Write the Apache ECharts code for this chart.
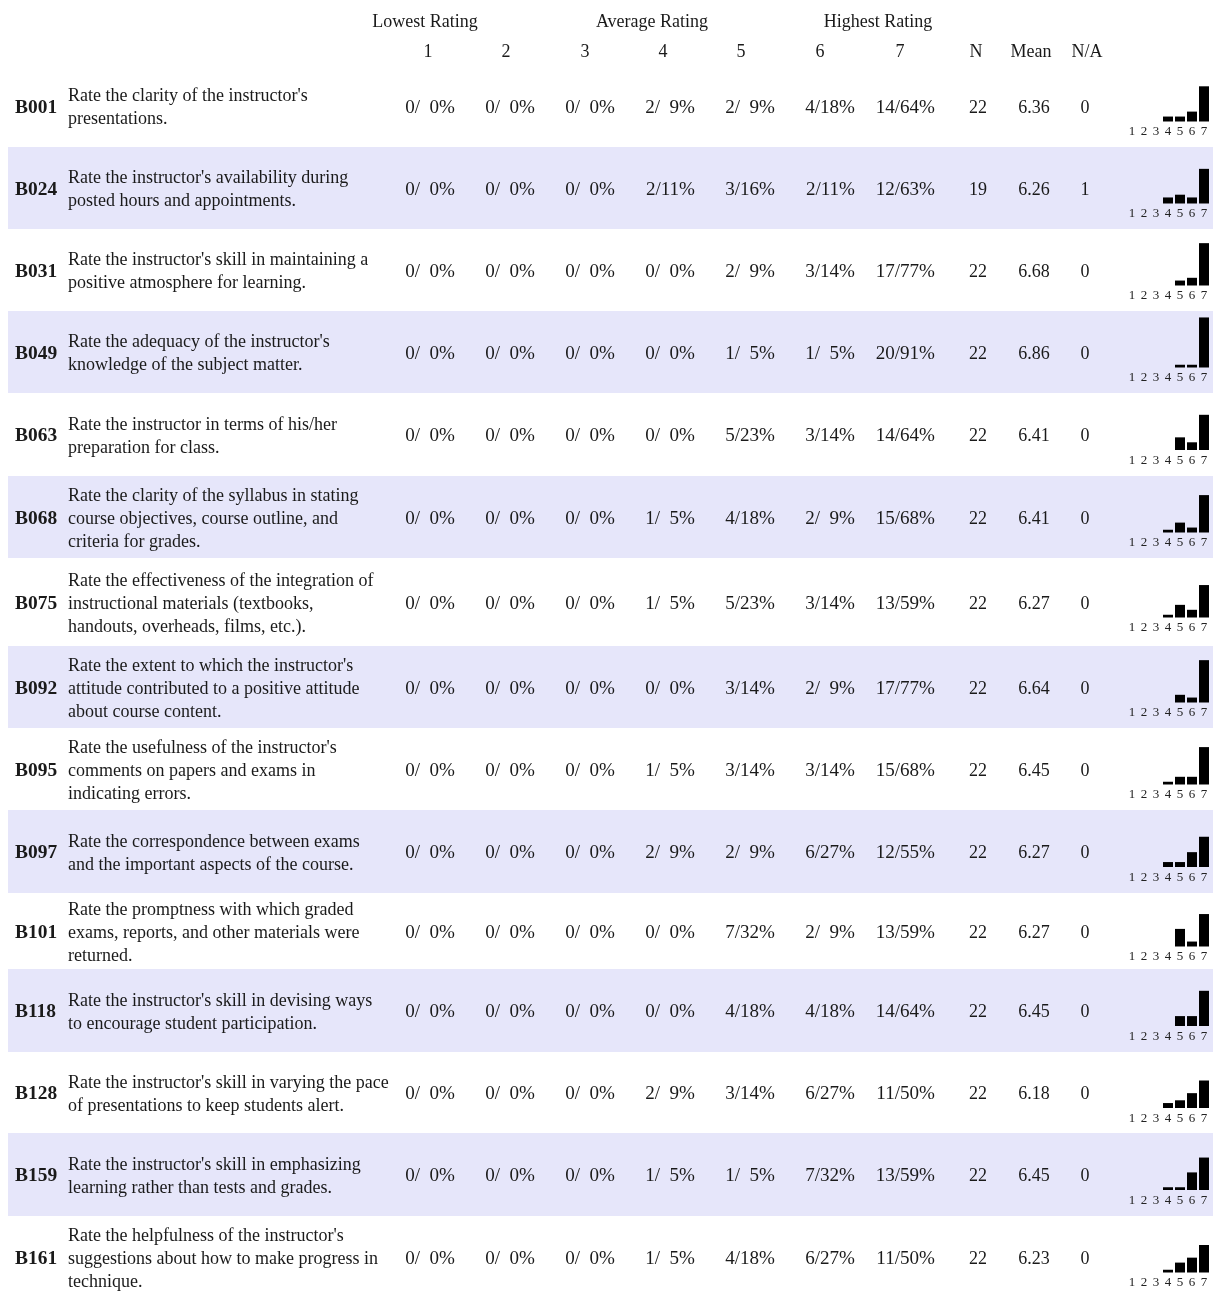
<!DOCTYPE html>
<html>
<head>
<meta charset="utf-8">
<script src="https://cdn.jsdelivr.net/npm/echarts@6/dist/echarts.min.js"></script>
<style>
  html, body { margin: 0; padding: 0; background: #fff; }
  #chart { width: 1213px; height: 1292px; }
</style>
</head>
<body>
<div id="chart"></div>
<script>
// ---- data ----
var codes = ['B001', 'B024', 'B031', 'B049', 'B063', 'B068', 'B075', 'B092',
             'B095', 'B097', 'B101', 'B118', 'B128', 'B159', 'B161'];

var questions = [
  "Rate the clarity of the instructor's\npresentations.",
  "Rate the instructor's availability during\nposted hours and appointments.",
  "Rate the instructor's skill in maintaining a\npositive atmosphere for learning.",
  "Rate the adequacy of the instructor's\nknowledge of the subject matter.",
  "Rate the instructor in terms of his/her\npreparation for class.",
  "Rate the clarity of the syllabus in stating\ncourse objectives, course outline, and\ncriteria for grades.",
  "Rate the effectiveness of the integration of\ninstructional materials (textbooks,\nhandouts, overheads, films, etc.).",
  "Rate the extent to which the instructor's\nattitude contributed to a positive attitude\nabout course content.",
  "Rate the usefulness of the instructor's\ncomments on papers and exams in\nindicating errors.",
  "Rate the correspondence between exams\nand the important aspects of the course.",
  "Rate the promptness with which graded\nexams, reports, and other materials were\nreturned.",
  "Rate the instructor's skill in devising ways\nto encourage student participation.",
  "Rate the instructor's skill in varying the pace\nof presentations to keep students alert.",
  "Rate the instructor's skill in emphasizing\nlearning rather than tests and grades.",
  "Rate the helpfulness of the instructor's\nsuggestions about how to make progress in\ntechnique."
];

var ratings = ['1', '2', '3', '4', '5', '6', '7'];

// number of answers per rating 1..7
var counts = [
  [0, 0, 0, 2, 2, 4, 14],
  [0, 0, 0, 2, 3, 2, 12],
  [0, 0, 0, 0, 2, 3, 17],
  [0, 0, 0, 0, 1, 1, 20],
  [0, 0, 0, 0, 5, 3, 14],
  [0, 0, 0, 1, 4, 2, 15],
  [0, 0, 0, 1, 5, 3, 13],
  [0, 0, 0, 0, 3, 2, 17],
  [0, 0, 0, 1, 3, 3, 15],
  [0, 0, 0, 2, 2, 6, 12],
  [0, 0, 0, 0, 7, 2, 13],
  [0, 0, 0, 0, 4, 4, 14],
  [0, 0, 0, 2, 3, 6, 11],
  [0, 0, 0, 1, 1, 7, 13],
  [0, 0, 0, 1, 4, 6, 11]
];

// percent per rating 1..7
var percents = [
  [0, 0, 0, 9, 9, 18, 64],
  [0, 0, 0, 11, 16, 11, 63],
  [0, 0, 0, 0, 9, 14, 77],
  [0, 0, 0, 0, 5, 5, 91],
  [0, 0, 0, 0, 23, 14, 64],
  [0, 0, 0, 5, 18, 9, 68],
  [0, 0, 0, 5, 23, 14, 59],
  [0, 0, 0, 0, 14, 9, 77],
  [0, 0, 0, 5, 14, 14, 68],
  [0, 0, 0, 9, 9, 27, 55],
  [0, 0, 0, 0, 32, 9, 59],
  [0, 0, 0, 0, 18, 18, 64],
  [0, 0, 0, 9, 14, 27, 50],
  [0, 0, 0, 5, 5, 32, 59],
  [0, 0, 0, 5, 18, 27, 50]
];

var nResp = [22, 19, 22, 22, 22, 22, 22, 22, 22, 22, 22, 22, 22, 22, 22];
var means = ['6.36', '6.26', '6.68', '6.86', '6.41', '6.41', '6.27', '6.64',
             '6.45', '6.27', '6.27', '6.45', '6.18', '6.45', '6.23'];
var naCounts = [0, 1, 0, 0, 0, 0, 0, 0, 0, 0, 0, 0, 0, 0, 0];

var groupHeads = ['Lowest Rating', 'Average Rating', 'Highest Rating'];

// ---- layout ----
var FONT = '"Liberation Serif", "Times New Roman", serif';
var TXT = '#1a1a1a';
var BAND = '#e6e6fa';
var rowTops = [65, 147, 229, 311, 393, 476, 558, 646, 728, 810, 893, 969, 1052, 1133, 1216, 1298];
var colRight = [455, 535, 615, 695, 775, 855, 935];   // value cells are right aligned
var colHead = [428, 506, 585, 663, 741, 820, 900];
var groupX = [425, 652, 878];

function fmtCell(c, p) {
  var b = p < 10 ? '  ' + p : '' + p;   // pad like the report
  return c + '/' + b + '%';
}

var chart = echarts.init(document.getElementById('chart'));

var graphics = [];
var grids = [], xAxes = [], yAxes = [], series = [];

function txt(s, x, y, align, opts) {
  opts = opts || {};
  graphics.push({
    type: 'text', x: x, y: y + 2, silent: true,
    scaleX: opts.sx || 1,
    style: {
      text: s,
      font: (opts.bold ? 'bold ' : '') + (opts.size || 18) + 'px ' + FONT,
      fill: TXT,
      align: align,
      verticalAlign: 'middle',
      lineHeight: 23
    }
  });
}

// header
groupHeads.forEach(function (h, i) { txt(h, groupX[i], 20, 'center'); });
ratings.forEach(function (r, i) { txt(r, colHead[i], 50, 'center'); });
txt('N', 976, 50, 'center');
txt('Mean', 1031, 50, 'center');
txt('N/A', 1087, 50, 'center');

codes.forEach(function (code, i) {
  var top = rowTops[i], bot = rowTops[i + 1];
  var cy = (top + bot) / 2;
  if (i % 2 === 1) {
    graphics.push({
      type: 'rect', silent: true, z: -10,
      shape: { x: 8, y: top, width: 1205, height: bot - top },
      style: { fill: BAND }
    });
  }
  txt(code, 15, cy, 'left', { bold: true, sx: 1.08 });
  txt(questions[i], 68, cy, 'left');
  for (var j = 0; j < 7; j++) {
    txt(fmtCell(counts[i][j], percents[i][j]), colRight[j], cy, 'right', { sx: 1.06 });
  }
  txt('' + nResp[i], 978, cy, 'center');
  txt(means[i], 1034, cy, 'center');
  txt('' + naCounts[i], 1085, cy, 'center');

  // mini histogram
  grids.push({ left: 1126, width: 84, top: cy + 15.5 - 55, height: 55 });
  xAxes.push({
    type: 'category', gridIndex: i, data: ratings,
    axisLine: { show: false }, axisTick: { show: false },
    axisLabel: { fontFamily: FONT, fontSize: 13, color: '#222', margin: 4 }
  });
  yAxes.push({ type: 'value', gridIndex: i, min: 0, max: 100, show: false });
  series.push({
    type: 'bar', xAxisIndex: i, yAxisIndex: i,
    data: percents[i], barWidth: 10,
    itemStyle: { color: '#000' },
    silent: true
  });
});

chart.setOption({
  animation: false,
  backgroundColor: '#fff',
  grid: grids,
  xAxis: xAxes,
  yAxis: yAxes,
  series: series,
  graphic: { elements: graphics }
});
</script>
</body>
</html>
